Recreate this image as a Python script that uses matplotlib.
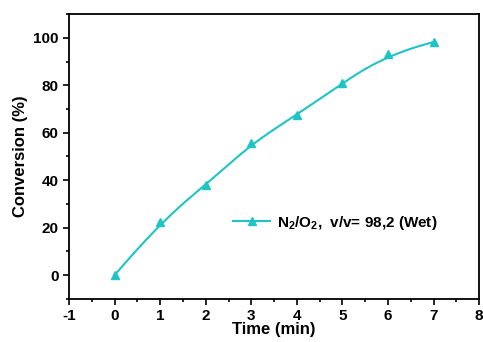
import matplotlib
matplotlib.use('Agg')
import matplotlib.pyplot as plt
from matplotlib.ticker import MultipleLocator
import numpy as np

plt.rcParams['font.family'] = ['Liberation Sans', 'DejaVu Sans']
plt.rcParams['font.weight'] = 'bold'
plt.rcParams['axes.unicode_minus'] = False
plt.rcParams['mathtext.fontset'] = 'custom'
plt.rcParams['mathtext.rm'] = 'Liberation Sans:bold'
plt.rcParams['mathtext.it'] = 'Liberation Sans:bold'
plt.rcParams['mathtext.bf'] = 'Liberation Sans:bold'

time_min = [0, 1, 2, 3, 4, 5, 6, 7]
conversion = [0, 22.5, 37.8, 55.5, 67.5, 81.0, 93.2, 98.2]
series_label = r'N$_2$/O$_2$,  v/v= 98,2 (Wet)'
colour = '#1fc4c4'


def bspline(x, y, n=400):
    # clamped cubic B-spline using the points as control points (Origin style)
    P = np.column_stack([x, y]).astype(float)
    k = 3
    m = len(P)
    knots = np.concatenate([np.zeros(k), np.linspace(0, 1, m - k + 1), np.ones(k)])
    ts = np.linspace(0, 1 - 1e-9, n)

    def basis(i, p, t):
        if p == 0:
            return ((knots[i] <= t) & (t < knots[i + 1])).astype(float)
        a = 0.0
        d1 = knots[i + p] - knots[i]
        d2 = knots[i + p + 1] - knots[i + 1]
        if d1 > 0:
            a = a + (t - knots[i]) / d1 * basis(i, p - 1, t)
        if d2 > 0:
            a = a + (knots[i + p + 1] - t) / d2 * basis(i + 1, p - 1, t)
        return a

    B = np.array([basis(i, k, ts) for i in range(m)])
    out = B.T @ P
    out = np.vstack([out, P[-1]])
    return out[:, 0], out[:, 1]


fig = plt.figure(figsize=(4.83, 3.42), dpi=100)
ax = fig.add_axes([0.143, 0.126, 0.849, 0.833])

xs, ys = bspline(time_min, conversion)
ax.plot(xs, ys, color=colour, lw=1.5)
ax.plot(time_min, conversion, '^', color=colour, ms=6, ls='none')
ax.plot([], [], '-^', color=colour, lw=1.5, ms=6, label=series_label)

ax.set_xlim(-1, 8)
ax.set_ylim(-10, 110)
ax.xaxis.set_major_locator(MultipleLocator(1))
ax.xaxis.set_minor_locator(MultipleLocator(0.5))
ax.set_yticks([0, 20, 40, 60, 80, 100])
ax.yaxis.set_minor_locator(MultipleLocator(10))
ax.tick_params(which='both', direction='out', width=1.2, labelsize=11)
ax.tick_params(which='major', length=4)
ax.tick_params(which='minor', length=2.5)
for s in ax.spines.values():
    s.set_linewidth(1.3)

ax.set_xlabel('Time (min)', fontsize=12, fontweight='bold', labelpad=-1)
ax.set_ylabel('Conversion (%)', fontsize=12, fontweight='bold', labelpad=4)

ax.legend(loc='center left', bbox_to_anchor=(0.367, 0.267), frameon=False,
          fontsize=11, handlelength=2.4, handletextpad=0.45)

fig.savefig('out.png', dpi=100)
